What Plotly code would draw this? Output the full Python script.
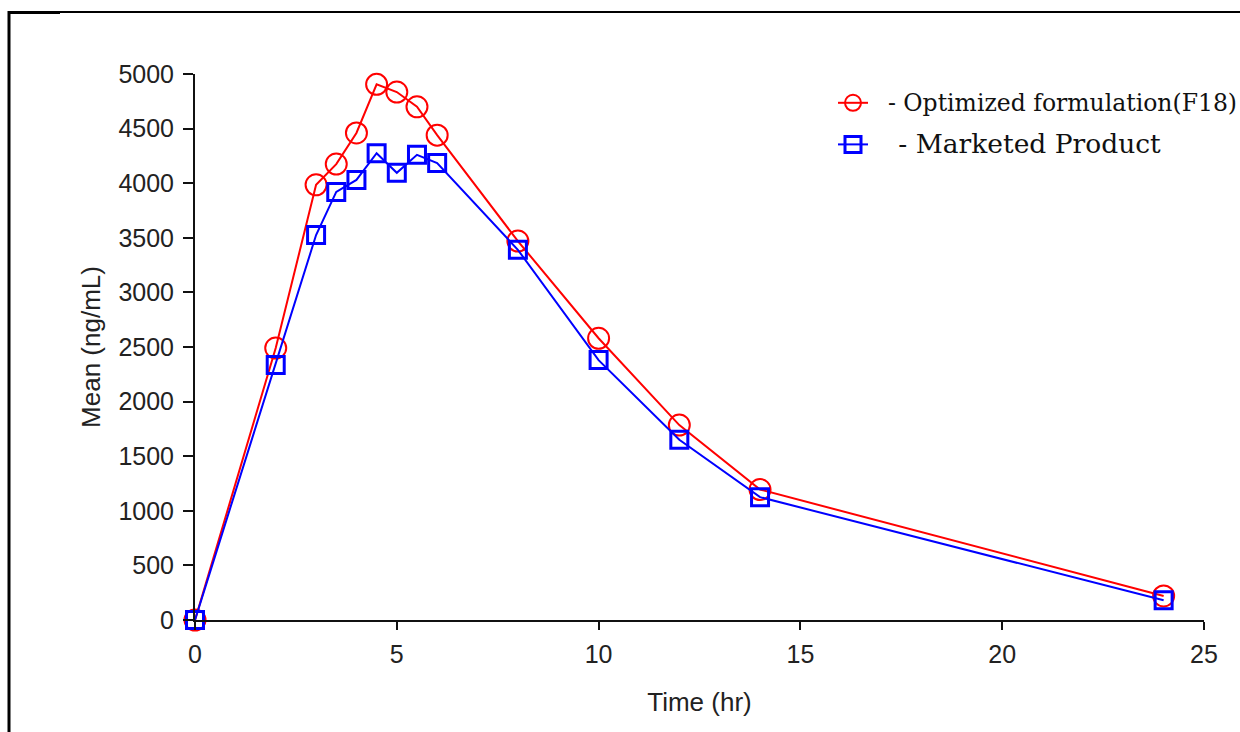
import plotly.graph_objects as go

time_hr = [0, 2, 3, 3.5, 4, 4.5, 5, 5.5, 6, 8, 10, 12, 14, 24]
optimized_f18 = [0, 2490, 3985, 4175, 4460, 4905, 4835, 4700, 4440, 3470, 2580, 1785, 1195, 220]
marketed = [0, 2335, 3525, 3920, 4030, 4275, 4095, 4260, 4185, 3390, 2380, 1650, 1125, 180]

x_ticks = [0, 5, 10, 15, 20, 25]
y_ticks = [0, 500, 1000, 1500, 2000, 2500, 3000, 3500, 4000, 4500, 5000]

W, H = 1240, 732
L, R, T, B = 195, 36, 74, 112
pw, ph = W - L - R, H - T - B

def px(x):
    return (x - L) / pw

def py(y):
    return (H - B - y) / ph

fig = go.Figure()
fig.add_trace(go.Scatter(
    x=time_hr, y=optimized_f18, mode="lines+markers",
    name="<span style='font-size:23.5px'>\u00a0\u00a0- Optimized formulation(F18)</span>",
    legendgroup="a",
    line=dict(color="#ff0000", width=2),
    marker=dict(symbol="circle-open", size=21, color="#ff0000", line=dict(width=2)),
    cliponaxis=False,
))
fig.add_trace(go.Scatter(
    x=time_hr, y=marketed, mode="lines+markers",
    name="<span style='font-size:26.5px'>\u00a0\u00a0\u00a0- Marketed Product</span>",
    legendgroup="b",
    line=dict(color="#0000ff", width=2),
    marker=dict(symbol="square-open", size=17, color="#0000ff", line=dict(width=3)),
    cliponaxis=False,
))

font_sans = "Liberation Sans, Arial"

fig.update_layout(
    width=W, height=H,
    margin=dict(l=L, r=R, t=T, b=B, autoexpand=False),
    paper_bgcolor="white", plot_bgcolor="white",
    showlegend=True,
    legend=dict(
        xref="container", yref="container",
        x=833 / W, y=1 - 82 / H, xanchor="left", yanchor="top",
        font=dict(family="DejaVu Serif, serif", size=22, color="#111111"),
        bgcolor="rgba(0,0,0,0)", tracegroupgap=10, itemsizing="trace",
        traceorder="grouped",
    ),
    xaxis=dict(
        range=[0, 25], tickvals=x_ticks, showgrid=False, zeroline=False,
        showline=True, linecolor="#111111", linewidth=2,
        ticks="outside", ticklen=8, tickwidth=1.5, tickcolor="#111111",
        ticklabelstandoff=3,
        tickfont=dict(family=font_sans, size=25, color="#222222"),
        title=dict(text="Time (hr)", font=dict(family=font_sans, size=26, color="#222222"), standoff=26),
    ),
    yaxis=dict(
        range=[0, 5000], tickvals=y_ticks, showgrid=False, zeroline=False,
        showline=True, linecolor="#111111", linewidth=2,
        ticks="outside", ticklen=10, tickwidth=1.5, tickcolor="#111111",
        ticklabelstandoff=4,
        tickfont=dict(family=font_sans, size=25, color="#222222"),
        title=dict(text="Mean (ng/mL)", font=dict(family=font_sans, size=26, color="#222222"), standoff=10),
    ),
    shapes=[
        dict(type="line", xref="paper", yref="paper", x0=px(8), x1=px(1240), y0=py(12), y1=py(12),
             line=dict(color="black", width=2)),
        dict(type="line", xref="paper", yref="paper", x0=px(8), x1=px(60), y0=py(12.5), y1=py(12.5),
             line=dict(color="black", width=3)),
        dict(type="line", xref="paper", yref="paper", x0=px(9), x1=px(9), y0=py(11), y1=py(732),
             line=dict(color="black", width=3)),
    ],
)

fig.write_html("out.html")
